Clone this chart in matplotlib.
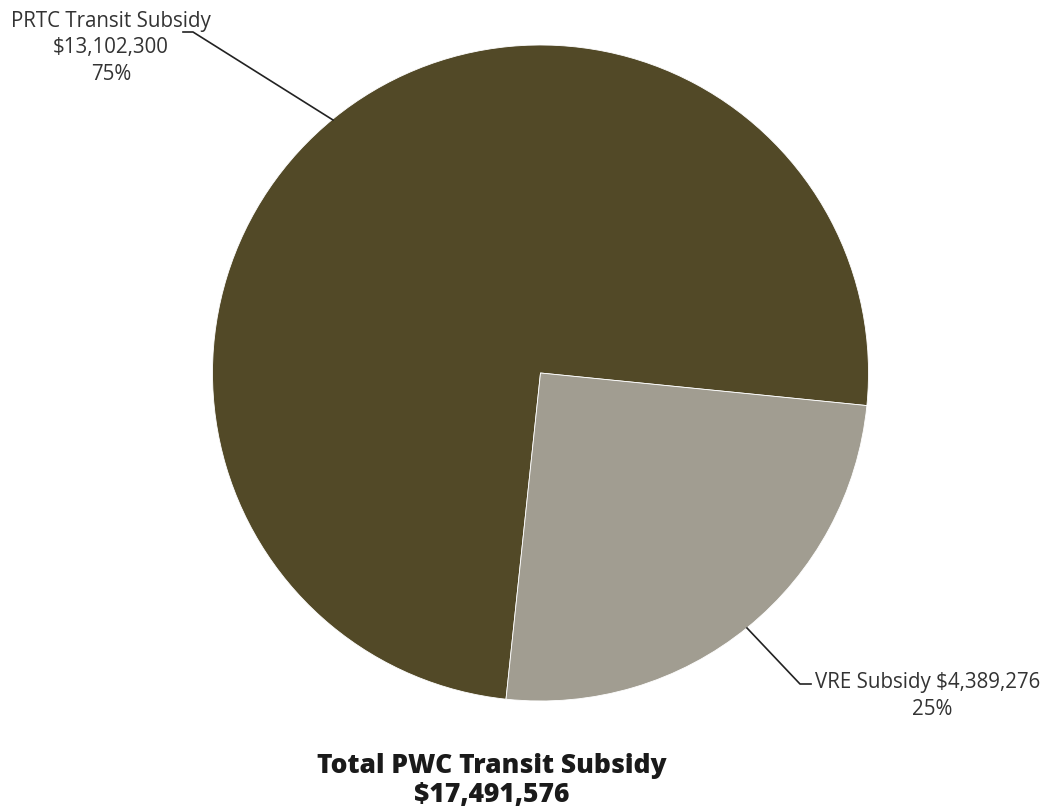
import numpy as np
import matplotlib.pyplot as plt

labels = ['PRTC Transit Subsidy', 'VRE Subsidy']
values = [13102300, 4389276]
colors = ['#524927', '#a19d91']
total = sum(values)

W, H = 1047, 812
fig = plt.figure(figsize=(W / 100, H / 100), dpi=100)
ax = fig.add_axes([0, 0, 1, 1])

cx, cy, r = 540.5, H - 374, 328
ax.pie(values, colors=colors, startangle=-5.7, center=(cx, cy), radius=r,
       wedgeprops=dict(edgecolor='white', linewidth=0.6), frame=True)
ax.set_xlim(0, W)
ax.set_ylim(0, H)
ax.set_aspect('equal')
ax.axis('off')

font = 'Open Sans'
tc = '#333333'
fs = 14.8
pct = [v / total * 100 for v in values]

# PRTC label, top left
ax.text(111, H - 21, labels[0], ha='center', va='center', fontsize=fs, color=tc, family=font)
ax.text(111, H - 47, '${:,}'.format(values[0]), ha='center', va='center', fontsize=fs, color=tc, family=font)
ax.text(111, H - 74, '{:.0f}%'.format(pct[0]), ha='center', va='center', fontsize=fs, color=tc, family=font)
ax.plot([183, 193, 333], [H - 33, H - 33, H - 121], color='#222222', lw=1.2)

# VRE label, bottom right
ax.text(815, H - 683, '{} ${:,}'.format(labels[1], values[1]), ha='left', va='center', fontsize=fs, color=tc, family=font)
ax.text(932, H - 710, '{:.0f}%'.format(pct[1]), ha='center', va='center', fontsize=fs, color=tc, family=font)
ax.plot([747, 800, 811], [H - 629, H - 685, H - 685], color='#222222', lw=1.2)

# total
ax.text(492, H - 766, 'Total PWC Transit Subsidy', ha='center', va='center', fontsize=19, fontweight='heavy', color='#1a1a1a', family=font)
ax.text(492, H - 795, '${:,}'.format(total), ha='center', va='center', fontsize=19, fontweight='heavy', color='#1a1a1a', family=font)

fig.savefig('out.png', dpi=100)
